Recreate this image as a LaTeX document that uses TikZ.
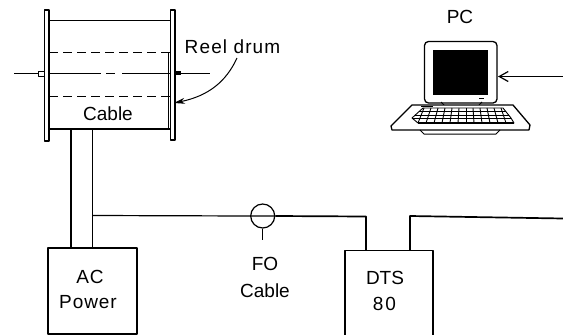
\documentclass[tikz,border=0pt]{standalone}
\usepackage{fontspec}
\setmainfont{Liberation Sans}
\usetikzlibrary{arrows.meta}
\tikzset{
 lbl/.style={inner sep=0pt,anchor=base,font=\fontsize{19}{19}\selectfont},
 wire/.style={line width=1.2pt},
 heavy/.style={line width=1.7pt},
 thin line/.style={line width=0.9pt},
 dashline/.style={line width=1pt,dash pattern=on 9pt off 5pt},
 flange/.style={draw,line width=1.5pt,fill=white,minimum width=4.5pt,inner sep=0pt},
 boxn/.style={draw,line width=1.5pt,inner sep=0pt,rectangle},
}
\newcommand{\spaced}[2]{\addfontfeature{LetterSpace=#1}#2}
\begin{document}
\begin{tikzpicture}[x=1pt,y=-1pt,line join=round]
\useasboundingbox (0,0) rectangle (563,335);
% AC power box and tube
\node[boxn,minimum width=89pt,minimum height=86pt] (ac) at (92.5,291) {};
\coordinate (tl) at (71,129);
\coordinate (tr) at (92.7,129);
\draw[wire] (tl) -- (tl |- ac.north);
\draw[wire] (tr) -- (tr |- ac.north);
% drum
\draw[line width=1.5pt] (49,20.7) -- (170,20.7);
\draw[line width=1.5pt] (49,129) -- (170,129);
\draw[dashline] (49,52) -- (170,52);
\draw[dashline] (49,96) -- (170,96);
\draw[thin line] (168.7,52) -- (168.7,129);
% axle
\draw[line width=1pt] (49,73) -- (101,73) (106,73) -- (115,73) (122,73) -- (170,73);
% flanges
\node[flange,minimum height=131pt] (fl) at (46.5,75.5) {};
\node[flange,minimum height=130pt] (fr) at (172.5,75) {};
\draw[line width=1pt] (14,73) -- (38,73);
\draw[line width=1pt,fill=white] (38,71) rectangle (44,76);
\draw[line width=1pt] (175,73) -- (210,73);
\fill[black] (175,71) rectangle (181,75);
\node[lbl] (cable) at (108,120.7) {Cable};
\node[lbl] (reel) at (232.5,53) {\spaced{6}{Reel drum}};
\draw[line width=1pt,-{Stealth[length=11pt,width=6pt]}] (237,58) .. controls (226,82) and (208,96) .. (174,103);
\node[lbl] (ac1) at (90,283) {\spaced{5}{AC}};
\node[lbl] (ac2) at (88,308) {\spaced{5}{Power}};
% FO
\node[draw,circle,line width=1.2pt,minimum size=24pt,inner sep=0pt] (fo) at (262.7,216) {};
\draw[wire] (tr |- 0,215.5) -- (fo.west) -- (fo.east);
\draw[heavy] (fo.east) -- (366,216.5) -- (366,250);
\coordinate (fos) at (262.7,240);
\draw[line width=1pt] (fo.south) -- (fos);
\node[lbl] (fot) at (265,270.7) {FO};
\node[lbl] (foc) at (265,297) {Cable};
% DTS
\draw[line width=1.4pt] (345,335) -- (345,250.5) -- (433,250.5) -- (433,335);
\draw[heavy] (410,250) -- (410,216) -- (563,218.5);
\node[lbl] (dts1) at (385,284) {DTS};
\node[lbl] (dts2) at (384.5,310.7) {\spaced{10}{80}};
% PC
\node[lbl] (pc) at (460,23) {PC};
\draw[line width=1.3pt,rounded corners=4pt,fill=white] (424.5,41.5) rectangle (497,103);
\fill[black] (433,50) rectangle (488,95);
\draw[line width=1pt] (441,102) -- (444,105) (482,102) -- (479,105);
\draw[line width=1pt] (479,98) -- (484,98);
% keyboard base
\draw[line width=1.3pt,fill=white] (412,105) -- (513,105) -- (530,125) -- (529,130) -- (392,130) -- (391,126) -- cycle;
\draw[line width=1pt] (420,130) -- (424,134) -- (496,134) -- (500,130);
% keys
\draw[line width=0.9pt,fill=white] (423,108) -- (503,108) -- (511,118) -- (514,123) -- (418,123) -- (412,118) -- cycle;
\foreach \i in {0,...,11}{
 \draw[line width=0.9pt] ({424+\i*7},108) -- ({418+\i*8},123);
}
\draw[line width=0.8pt] (419,111.5) -- (506,111.5) (415,115) -- (509,115) (412,118) -- (511,118);
\draw[line width=1.2pt] (418,123) -- (514,123);
\draw[line width=1.3pt] (421,106.5) -- (433,106.5);
% arrow
\coordinate (parr) at (563,76.5);
\draw[wire,-{Straight Barb[length=9pt,width=10pt]}] (parr) -- (498,76.5);
\end{tikzpicture}
\end{document}
